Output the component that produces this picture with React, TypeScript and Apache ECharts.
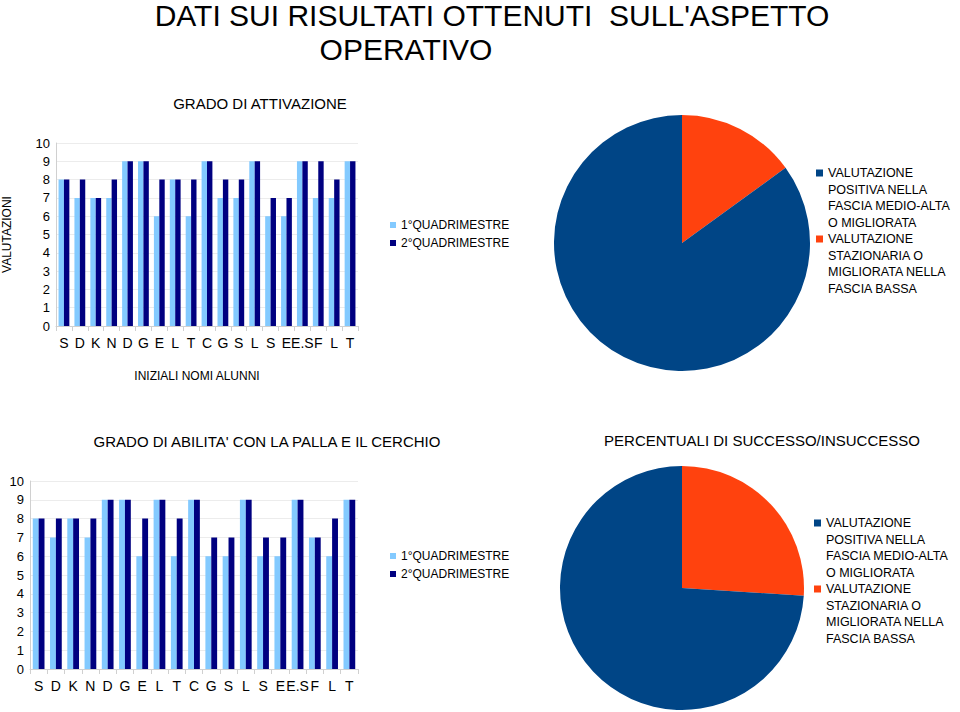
import React, { useEffect, useRef } from "react";
import * as echarts from "echarts";

const FONT = "'Liberation Sans', Arial, sans-serif";

const students = ["S", "D", "K", "N", "D", "G", "E", "L", "T", "C", "G", "S", "L", "S", "E", "E.S", "F", "L", "T"];
const seriesNames = ["1°QUADRIMESTRE", "2°QUADRIMESTRE"];

const attivazioneQ1 = [8, 7, 7, 7, 9, 9, 6, 8, 6, 9, 7, 7, 9, 6, 6, 9, 7, 7, 9];
const attivazioneQ2 = [8, 8, 7, 8, 9, 9, 8, 8, 8, 9, 8, 8, 9, 7, 7, 9, 9, 8, 9];

const abilitaQ1 = [8, 7, 8, 7, 9, 9, 6, 9, 6, 9, 6, 6, 9, 6, 6, 9, 7, 6, 9];
const abilitaQ2 = [8, 8, 8, 8, 9, 9, 8, 9, 8, 9, 7, 7, 9, 7, 7, 9, 7, 8, 9];

const pieNames = [
  "VALUTAZIONE\nSTAZIONARIA O\nMIGLIORATA NELLA\nFASCIA BASSA",
  "VALUTAZIONE\nPOSITIVA NELLA\nFASCIA MEDIO-ALTA\nO MIGLIORATA",
];
const pie1Values = [15, 85];
const pie2Values = [26, 74];

const mainTitle1 = "DATI SUI RISULTATI OTTENUTI  SULL'ASPETTO";
const mainTitle2 = "OPERATIVO";
const chart1Title = "GRADO DI ATTIVAZIONE";
const chart2Title = "GRADO DI ABILITA' CON LA PALLA E IL CERCHIO";
const pie2Title = "PERCENTUALI DI SUCCESSO/INSUCCESSO";

const LIGHT = "#83caff";
const DARK = "#000080";
const ORANGE = "#ff420e";
const BLUE = "#004586";

function App() {
  const ref = useRef<HTMLDivElement>(null);
  useEffect(() => {
    if (!ref.current) return;
    const chart = echarts.init(ref.current, null, { renderer: "svg" });

    const yAxisBase = (gridIndex: number, name: string) => ({
      type: "value",
      gridIndex,
      min: 0,
      max: 10,
      interval: 1,
      name,
      nameLocation: "middle",
      nameGap: 43,
      nameRotate: 90,
      nameTextStyle: { fontFamily: FONT, fontSize: 12, color: "#000" },
      axisLine: { show: true, lineStyle: { color: "#d0d0d0" } },
      axisTick: { show: false },
      axisLabel: { fontFamily: FONT, fontSize: 13, color: "#000", margin: 6 },
      splitLine: { lineStyle: { color: "#ececec" } },
    });

    const xAxisBase = (gridIndex: number, name: string) => ({
      type: "category",
      gridIndex,
      data: students,
      name,
      nameLocation: "middle",
      nameGap: 44,
      nameTextStyle: { fontFamily: FONT, fontSize: 12, color: "#000", padding: [0, 20, 0, 0] },
      axisLine: { lineStyle: { color: "#d0d0d0" } },
      axisTick: { show: true, length: 5, lineStyle: { color: "#d0d0d0" } },
      axisLabel: { interval: 0, fontFamily: FONT, fontSize: 14, color: "#000", margin: 10 },
    });

    const barSeries = (idx: number, name: string, data: number[], color: string) => ({
      type: "bar",
      name,
      xAxisIndex: idx,
      yAxisIndex: idx,
      data,
      itemStyle: { color },
      barGap: "0%",
      barCategoryGap: "32%",
    });

    const pieLegend = (x: number, y: number) => {
      const lh = 16.5;
      return [
        { type: "rect", shape: { x, y: y - 3.5, width: 7, height: 7 }, style: { fill: BLUE } },
        {
          type: "text",
          x: x + 12,
          y: y - lh / 2,
          style: { text: pieNames[1], font: `12.5px ${FONT}`, fill: "#000", lineHeight: lh, textVerticalAlign: "top" },
        },
        { type: "rect", shape: { x, y: y + 4 * lh - 3.5, width: 7, height: 7 }, style: { fill: ORANGE } },
        {
          type: "text",
          x: x + 12,
          y: y + 4 * lh - lh / 2,
          style: { text: pieNames[0], font: `12.5px ${FONT}`, fill: "#000", lineHeight: lh, textVerticalAlign: "top" },
        },
      ];
    };

    const centeredText = (text: string, x: number, y: number, size: number) => ({
      type: "text",
      x,
      y,
      style: { text, font: `${size}px ${FONT}`, fill: "#000", textAlign: "center", textVerticalAlign: "middle" },
    });

    const legendBase = (top: number) => ({
      data: seriesNames,
      orient: "vertical",
      left: 385,
      top,
      itemWidth: 6,
      itemHeight: 6,
      itemGap: 4,
      icon: "rect",
      textStyle: { fontFamily: FONT, fontSize: 12, color: "#000", lineHeight: 14, padding: [0, 0, 0, 0] },
    });

    const option = {
      animation: false,
      backgroundColor: "#fff",
      textStyle: { fontFamily: FONT },
      grid: [
        { left: 50, right: 602, top: 143, bottom: 386 },
        { left: 30, right: 602, top: 481, bottom: 43 },
      ],
      xAxis: [xAxisBase(0, "INIZIALI NOMI ALUNNI"), xAxisBase(1, "")],
      yAxis: [yAxisBase(0, "VALUTAZIONI"), yAxisBase(1, "")],
      legend: [legendBase(213), legendBase(544)],
      series: [
        barSeries(0, seriesNames[0], attivazioneQ1, LIGHT),
        barSeries(0, seriesNames[1], attivazioneQ2, DARK),
        barSeries(1, seriesNames[0], abilitaQ1, LIGHT),
        barSeries(1, seriesNames[1], abilitaQ2, DARK),
        {
          type: "pie",
          center: [682, 243],
          radius: 128,
          startAngle: 90,
          clockwise: true,
          label: { show: false },
          labelLine: { show: false },
          data: pieNames.map((n, i) => ({ name: n, value: pie1Values[i], itemStyle: { color: i === 0 ? ORANGE : BLUE } })),
        },
        {
          type: "pie",
          center: [682, 588],
          radius: 122,
          startAngle: 90,
          clockwise: true,
          label: { show: false },
          labelLine: { show: false },
          data: pieNames.map((n, i) => ({ name: n, value: pie2Values[i], itemStyle: { color: i === 0 ? ORANGE : BLUE } })),
        },
      ],
      graphic: [
        centeredText(mainTitle1, 492, 15, 30),
        centeredText(mainTitle2, 406, 49, 30),
        centeredText(chart1Title, 260, 103, 15),
        centeredText(chart2Title, 267, 441, 15),
        centeredText(pie2Title, 762, 440, 15),
        ...pieLegend(816, 173),
        ...pieLegend(814, 523),
      ],
    };

    chart.setOption(option as any);
    return () => chart.dispose();
  }, []);

  return <div ref={ref} style={{ position: "absolute", left: 0, top: 0, width: 960, height: 712 }} />;
}

export default App;
